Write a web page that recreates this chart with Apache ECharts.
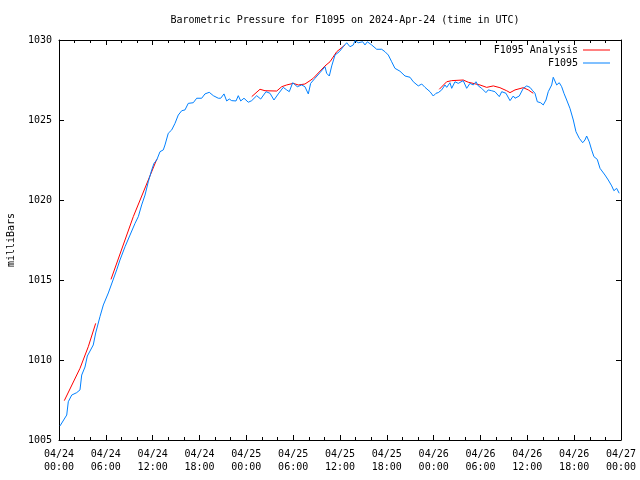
<!DOCTYPE html>
<html>
<head>
<meta charset="utf-8">
<script src="https://cdn.jsdelivr.net/npm/echarts@6/dist/echarts.min.js"></script>
<style>
html,body{margin:0;padding:0;background:#fff;}
#c{width:640px;height:480px;}
</style>
</head>
<body>
<div id="c"></div>
<script>
// Hours since 2024-04-24 00:00 UTC, pressure in milliBars
const obsHours = [0.13,0.99,1.19,1.63,2.27,2.69,2.91,3.33,3.63,3.88,4.39,4.70,5.25,5.68,6.32,7.39,7.81,8.46,9.10,9.74,10.16,10.59,11.02,11.44,11.88,12.17,12.52,12.94,13.36,13.58,14.00,14.44,14.86,15.28,15.72,16.14,16.56,17.20,17.64,18.28,18.70,19.25,19.77,20.41,20.72,21.14,21.48,21.82,22.12,22.68,22.97,23.28,23.70,24.25,24.69,25.33,25.84,26.52,27.03,27.54,28.09,28.73,29.17,29.50,29.94,30.53,31.09,31.51,31.94,32.24,32.80,33.44,34.08,34.29,34.63,34.94,35.36,35.91,36.42,36.86,37.28,37.70,37.92,38.34,38.91,39.20,39.50,40.06,40.70,41.34,41.76,42.19,42.62,43.04,43.68,44.33,44.97,45.39,46.03,46.47,46.89,47.53,47.95,48.30,48.59,49.03,49.45,49.67,50.09,50.31,50.73,51.15,51.79,52.23,52.65,53.07,53.42,53.72,54.15,54.70,54.99,55.43,55.85,56.41,56.72,57.26,57.78,58.20,58.42,58.97,59.48,59.92,60.34,60.69,60.98,61.28,61.71,62.04,62.39,62.68,63.12,63.32,63.54,63.76,64.09,64.40,64.69,65.04,65.46,65.89,66.23,66.65,67.09,67.38,67.60,67.93,68.24,68.53,68.96,69.31,69.95,70.37,70.81,71.09,71.44,71.77];
const obsPressure = [1005.88,1006.56,1007.39,1007.81,1007.96,1008.13,1009.06,1009.56,1010.25,1010.19,1010.94,1011.69,1012.71,1013.44,1014.19,1015.63,1016.25,1017.08,1017.81,1018.54,1018.96,1019.69,1020.31,1021.14,1021.88,1022.29,1022.50,1023.02,1023.13,1023.44,1024.17,1024.38,1024.79,1025.31,1025.58,1025.63,1026.04,1026.08,1026.36,1026.36,1026.63,1026.73,1026.52,1026.36,1026.36,1026.63,1026.19,1026.31,1026.21,1026.19,1026.52,1026.19,1026.36,1026.11,1026.21,1026.52,1026.31,1026.77,1026.67,1026.25,1026.63,1027.04,1026.88,1026.77,1027.33,1027.08,1027.19,1027.08,1026.63,1027.29,1027.61,1027.96,1028.33,1027.92,1027.75,1028.38,1029.06,1029.27,1029.58,1029.83,1029.58,1029.69,1029.96,1029.83,1029.89,1029.69,1029.89,1029.69,1029.42,1029.42,1029.27,1029.06,1028.64,1028.23,1028.05,1027.75,1027.67,1027.39,1027.13,1027.25,1027.04,1026.77,1026.50,1026.67,1026.71,1026.88,1027.19,1027.04,1027.33,1026.98,1027.39,1027.29,1027.46,1026.98,1027.29,1027.19,1027.39,1027.13,1026.98,1026.71,1026.88,1026.83,1026.77,1026.46,1026.77,1026.67,1026.21,1026.50,1026.36,1026.50,1026.98,1027.13,1027.04,1026.83,1026.67,1026.14,1026.08,1025.94,1026.25,1026.77,1027.19,1027.67,1027.67,1027.19,1027.33,1027.08,1026.67,1026.25,1025.73,1025.00,1024.27,1023.86,1023.58,1023.75,1024.00,1023.64,1023.13,1022.71,1022.54,1021.98,1021.56,1021.25,1020.88,1020.58,1020.73,1020.42];

// Analysis segments (null breaks the line between segments)
const anaHours = [0.68,2.69,3.75,4.70, 5.5, 6.66,9.52,12.52, 18.0, 24.69,25.75,26.39,27.89,28.53,29.17,30.01,30.66,31.51,32.16,32.58,34.08,34.72,35.58,36.64, 42.0, 48.72,49.67,50.31,51.79,52.43,53.93,54.79,55.64,56.49,57.35,57.78,58.42,59.48,60.12,60.76];
const anaPressure = [1007.46,1009.48,1010.83,1012.29, null, 1015.04,1018.96,1022.54, null, 1026.46,1026.92,1026.83,1026.81,1027.08,1027.19,1027.29,1027.19,1027.25,1027.46,1027.61,1028.38,1028.64,1029.27,1029.69, null, 1026.92,1027.39,1027.46,1027.50,1027.36,1027.19,1027.04,1027.13,1027.02,1026.83,1026.71,1026.88,1027.02,1026.88,1026.67];

const xTickLabels = ['04/24\n00:00','04/24\n06:00','04/24\n12:00','04/24\n18:00','04/25\n00:00','04/25\n06:00','04/25\n12:00','04/25\n18:00','04/26\n00:00','04/26\n06:00','04/26\n12:00','04/26\n18:00','04/27\n00:00'];
const yTicks = [1005,1010,1015,1020,1025,1030];

const FONT = 'DejaVu Sans Mono';
const chart = echarts.init(document.getElementById('c'), null, {renderer:'canvas'});
const obsData = obsHours.map((h,i)=>[h, obsPressure[i]]);
const anaData = anaHours.map((h,i)=>[h, anaPressure[i] === null ? '-' : anaPressure[i]]);

const axisLineStyle = {color:'#000', width:1};
const baseX = {
  type:'value', min:0, max:72, interval:6,
  axisLine:{show:true, onZero:false, lineStyle:axisLineStyle},
  axisTick:{show:true, inside:true, length:5, lineStyle:axisLineStyle},
  minorTick:{show:true, splitNumber:3, length:3, lineStyle:axisLineStyle},
  splitLine:{show:false}
};
const baseY = {
  type:'value', min:1005, max:1030, interval:5,
  axisLine:{show:true, onZero:false, lineStyle:axisLineStyle},
  axisTick:{show:true, inside:true, length:5, lineStyle:axisLineStyle},
  splitLine:{show:false}
};

chart.setOption({
  animation:false,
  backgroundColor:'#fff',
  title:{
    text:'Barometric Pressure for F1095 on 2024-Apr-24 (time in UTC)',
    left:340, textAlign:'center', top:10,
    textStyle:{fontFamily:FONT, fontSize:10, fontWeight:'normal', color:'#000'}
  },
  legend:[
    {data:['F1095 Analysis'], right:30, top:45, padding:0, align:'right', icon:'rect', itemWidth:27, itemHeight:1,
     textStyle:{fontFamily:FONT, fontSize:10, color:'#000'}},
    {data:['F1095'], right:30, top:58, padding:0, align:'right', icon:'rect', itemWidth:27, itemHeight:1,
     textStyle:{fontFamily:FONT, fontSize:10, color:'#000'}}
  ],
  grid:{left:59, right:19, top:40, bottom:40, containLabel:false, outerBoundsMode:'none'},
  xAxis:[
    Object.assign({}, baseX, {position:'bottom',
      axisLabel:{show:true, margin:8, fontFamily:FONT, fontSize:10, color:'#000', lineHeight:13,
        formatter:(v)=>xTickLabels[Math.round(v/6)]}}),
    Object.assign({}, baseX, {position:'top', axisLabel:{show:false}})
  ],
  yAxis:[
    Object.assign({}, baseY, {position:'left', name:'milliBars', nameLocation:'middle', nameGap:43, nameRotate:90,
      nameTextStyle:{fontFamily:FONT, fontSize:10, color:'#000'},
      axisLabel:{show:true, margin:7, fontFamily:FONT, fontSize:10, color:'#000',
        formatter:(v)=>yTicks.includes(v)?String(v):''}}),
    Object.assign({}, baseY, {position:'right', axisLabel:{show:false}})
  ],
  series:[
    {name:'F1095 Analysis', type:'line', xAxisIndex:0, yAxisIndex:0, data:anaData, showSymbol:false, connectNulls:false,
     color:'#ff0000', lineStyle:{width:1, color:'#ff0000'}, itemStyle:{color:'#ff0000'}},
    {name:'F1095', type:'line', xAxisIndex:0, yAxisIndex:0, data:obsData, showSymbol:false,
     color:'#0080ff', lineStyle:{width:1, color:'#0080ff'}, itemStyle:{color:'#0080ff'}}
  ]
});
</script>
</body>
</html>
